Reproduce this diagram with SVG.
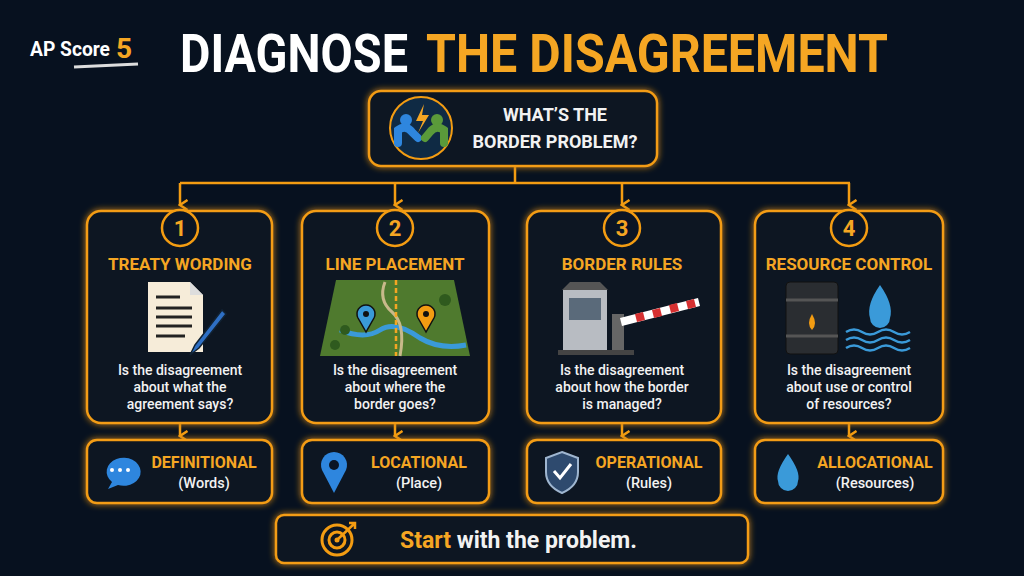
<svg xmlns="http://www.w3.org/2000/svg" width="1024" height="576" viewBox="0 0 1024 576">
<defs>
<style>
.box{fill:#0b1524;stroke:#f39c12;stroke-width:2.5}
.glow{filter:url(#g)}
.t{font-family:Roboto,"Liberation Sans",sans-serif;font-weight:700}
.ttl{fill:#f5a623;font-size:17px;text-anchor:middle}
.q{fill:#f2f2f2;font-size:14px;text-anchor:middle;font-weight:500}
.lab{fill:#f5a623;font-size:16px;text-anchor:middle}
.sub{fill:#f2f2f2;font-size:14.5px;text-anchor:middle;font-weight:500}
.num{fill:#f5a623;font-size:22px;text-anchor:middle}
.con{stroke:#f39c12;stroke-width:2.5;fill:none}
</style>
<filter id="g" x="-20%" y="-20%" width="140%" height="140%"><feGaussianBlur stdDeviation="3" in="SourceGraphic" result="b"/><feMerge><feMergeNode in="b"/><feMergeNode in="SourceGraphic"/></feMerge></filter>
<marker id="ar" viewBox="0 0 10 10" refX="5" refY="8" markerWidth="5" markerHeight="5" orient="auto-start-reverse"><path d="M1,2 L5,8 L9,2" fill="none" stroke="#f39c12" stroke-width="2"/></marker>
</defs>
<rect width="1024" height="576" fill="#07111f"/>
<g id="logo"><text x="30" y="56" class="t" fill="#fff" font-size="21" textLength="80" lengthAdjust="spacingAndGlyphs">AP Score</text><text x="116" y="58" class="t" fill="#f5a623" font-size="28">5</text><path d="M74,67 L138,64" stroke="#ddd" stroke-width="3"/></g>
<g id="title"><text x="180" y="72" class="t" font-size="54" textLength="228" lengthAdjust="spacingAndGlyphs" fill="#fff">DIAGNOSE</text><text x="426" y="72" class="t" font-size="54" textLength="462" lengthAdjust="spacingAndGlyphs" fill="#f5a623">THE DISAGREEMENT</text></g>
<g id="connectors" class="con">
<path d="M515,166 V183 M180,183 H850"/>
<path d="M180,183 V205" marker-end="url(#ar)"/><path d="M395,183 V205" marker-end="url(#ar)"/><path d="M622,183 V205" marker-end="url(#ar)"/><path d="M849,183 V205" marker-end="url(#ar)"/>
<path d="M180,423 V436" marker-end="url(#ar)"/><path d="M395,423 V436" marker-end="url(#ar)"/><path d="M622,423 V436" marker-end="url(#ar)"/><path d="M849,423 V436" marker-end="url(#ar)"/>
</g>
<g id="root"><rect class="box glow" x="369" y="91" width="288" height="75" rx="12"/>
<circle cx="421" cy="128" r="31" fill="#0f2a44" stroke="#f39c12" stroke-width="2"/>
<circle cx="406" cy="120" r="6" fill="#2e86de"/><path d="M398,143 V130 Q406,124 412,132 L418,138" stroke="#2e86de" stroke-width="8" fill="none" stroke-linecap="round"/>
<circle cx="437" cy="120" r="6" fill="#5a9a3a"/><path d="M444,143 V130 Q436,124 430,132 L425,138" stroke="#5a9a3a" stroke-width="8" fill="none" stroke-linecap="round"/>
<path d="M424,104 L416,121 H423 L418,133 L429,115 H422 Z" fill="#f5a623"/>
<text x="555" y="121" class="t" fill="#f2f2f2" font-size="18" text-anchor="middle">WHAT’S THE</text>
<text x="555" y="148" class="t" fill="#f2f2f2" font-size="18" text-anchor="middle">BORDER PROBLEM?</text></g>

<g id="card1"><rect class="box glow" x="87" y="211" width="185" height="212" rx="14"/>
<circle cx="180" cy="228" r="18" fill="#0b1524" stroke="#f39c12" stroke-width="2.5"/><text x="180" y="236" class="t num">1</text>
<text x="180" y="270" class="t ttl">TREATY WORDING</text>
<path d="M148,282 H190 L203,295 V352 H148 Z" fill="#f6ecd9"/><path d="M190,282 V295 H203" fill="#ddd" />
<path d="M156,297 H180 M156,308 H192 M156,317 H192 M156,326 H192 M156,336 H185" stroke="#222" stroke-width="3"/>
<path d="M222,310 L195,345 L190,355 L199,348 L226,314 Z" fill="#2e6fc4" stroke="#123" stroke-width="1.5"/>
<text x="180" y="375" class="t q">Is the disagreement</text><text x="180" y="392" class="t q">about what the</text><text x="180" y="409" class="t q">agreement says?</text></g>

<g id="card2"><rect class="box glow" x="302" y="211" width="187" height="212" rx="14"/>
<circle cx="395" cy="228" r="18" fill="#0b1524" stroke="#f39c12" stroke-width="2.5"/><text x="395" y="236" class="t num">2</text>
<text x="395" y="270" class="t ttl">LINE PLACEMENT</text>
<path d="M336,280 H454 L470,356 H320 Z" fill="#4f7a2e"/>
<path d="M340,330 Q365,340 380,330 T420,338 Q440,350 466,345" stroke="#3a9ad9" stroke-width="5" fill="none"/>
<path d="M385,282 Q378,300 392,312 T400,356" stroke="#c8b98a" stroke-width="3" fill="none"/>
<path d="M396,280 V356" stroke="#f5a623" stroke-width="2.5" stroke-dasharray="5,3"/>
<circle cx="345" cy="330" r="5" fill="#2f5a1e"/><circle cx="445" cy="300" r="6" fill="#2f5a1e"/><circle cx="335" cy="345" r="5" fill="#2f5a1e"/>
<path d="M366,332 L358,318 A9,9 0 1 1 374,318 Z" fill="#3a9ad9" stroke="#111" stroke-width="1.5"/><circle cx="366" cy="314" r="3" fill="#111"/>
<path d="M426,332 L418,318 A9,9 0 1 1 434,318 Z" fill="#f39c12" stroke="#111" stroke-width="1.5"/><circle cx="426" cy="314" r="3" fill="#111"/>
<text x="395" y="375" class="t q">Is the disagreement</text><text x="395" y="392" class="t q">about where the</text><text x="395" y="409" class="t q">border goes?</text></g>

<g id="card3"><rect class="box glow" x="527" y="211" width="194" height="212" rx="14"/>
<circle cx="622" cy="228" r="18" fill="#0b1524" stroke="#f39c12" stroke-width="2.5"/><text x="622" y="236" class="t num">3</text>
<text x="622" y="270" class="t ttl">BORDER RULES</text>
<path d="M562,290 L570,282 H600 L608,290 Z" fill="#555"/><rect x="563" y="290" width="44" height="60" fill="#b8bcc2"/><rect x="569" y="298" width="32" height="22" fill="#5a6a7a"/><rect x="558" y="350" width="76" height="5" fill="#444"/>
<rect x="612" y="314" width="12" height="36" fill="#666"/>
<path d="M620,318 L698,298 L700,306 L622,326 Z" fill="#fff"/>
<path d="M635,314 L643,312 L645,320 L637,322 Z M652,310 L660,308 L662,316 L654,318 Z M669,305 L677,303 L679,311 L671,313 Z M686,301 L694,299 L696,307 L688,309 Z" fill="#d63031"/>
<text x="622" y="375" class="t q">Is the disagreement</text><text x="622" y="392" class="t q">about how the border</text><text x="622" y="409" class="t q">is managed?</text></g>

<g id="card4"><rect class="box glow" x="755" y="211" width="188" height="212" rx="14"/>
<circle cx="849" cy="228" r="18" fill="#0b1524" stroke="#f39c12" stroke-width="2.5"/><text x="849" y="236" class="t num">4</text>
<text x="849" y="270" class="t ttl">RESOURCE CONTROL</text>
<rect x="786" y="282" width="52" height="72" rx="4" fill="#2a2d31" stroke="#111"/><path d="M786,300 H838 M786,336 H838" stroke="#555" stroke-width="3"/>
<path d="M812,314 Q806,324 812,330 Q818,324 812,314 Z" fill="#f39c12"/>
<path d="M880,285 Q866,305 870,318 A10,10 0 0 0 890,318 Q894,305 880,285 Z" fill="#3a9ad9"/>
<path d="M846,332 q8,-5 16,0 t16,0 t16,0 t16,0 M846,340 q8,-5 16,0 t16,0 t16,0 t16,0 M846,348 q8,-5 16,0 t16,0 t16,0 t16,0" stroke="#3a9ad9" stroke-width="2.5" fill="none"/>
<text x="849" y="375" class="t q">Is the disagreement</text><text x="849" y="392" class="t q">about use or control</text><text x="849" y="409" class="t q">of resources?</text></g>

<g id="out1"><rect class="box glow" x="87" y="440" width="185" height="63" rx="10"/>
<path d="M108,489 L112,482 A17,14 0 1 1 118,485 Z" fill="#2e86de"/><circle cx="112" cy="470" r="2" fill="#fff"/><circle cx="120" cy="470" r="2" fill="#fff"/><circle cx="128" cy="470" r="2" fill="#fff"/>
<text x="204" y="468" class="t lab">DEFINITIONAL</text><text x="204" y="488" class="t sub">(Words)</text></g>
<g id="out2"><rect class="box glow" x="302" y="440" width="187" height="63" rx="10"/>
<path d="M334,493 L322,470 A13,13 0 1 1 346,470 Z" fill="#2e86de"/><circle cx="334" cy="465" r="5" fill="#0b1524"/>
<text x="419" y="468" class="t lab">LOCATIONAL</text><text x="419" y="488" class="t sub">(Place)</text></g>
<g id="out3"><rect class="box glow" x="527" y="440" width="194" height="63" rx="10"/>
<path d="M562,452 L578,458 V472 Q578,486 562,493 Q546,486 546,472 V458 Z" fill="#2e4a6e" stroke="#9fb6d0" stroke-width="2"/><path d="M554,471 L560,478 L571,464" stroke="#fff" stroke-width="3" fill="none"/>
<text x="649" y="468" class="t lab">OPERATIONAL</text><text x="649" y="488" class="t sub">(Rules)</text></g>
<g id="out4"><rect class="box glow" x="755" y="440" width="188" height="63" rx="10"/>
<path d="M788,454 Q775,472 778,481 A10,10 0 0 0 798,481 Q801,472 788,454 Z" fill="#3a9ad9"/>
<text x="875" y="468" class="t lab">ALLOCATIONAL</text><text x="875" y="488" class="t sub">(Resources)</text></g>

<g id="footer"><rect class="box glow" x="276" y="515" width="472" height="48" rx="8"/>
<circle cx="337" cy="540" r="15" fill="none" stroke="#f39c12" stroke-width="3"/><circle cx="337" cy="540" r="8" fill="none" stroke="#f39c12" stroke-width="3"/><circle cx="337" cy="540" r="2.5" fill="#f39c12"/>
<path d="M338,539 L354,524 M349,523 H355 V529" stroke="#f39c12" stroke-width="2.5" fill="none"/>
<text x="400" y="548" class="t" font-size="23" fill="#f2f2f2"><tspan fill="#f5a623">Start</tspan> with the problem.</text></g>
</svg>
